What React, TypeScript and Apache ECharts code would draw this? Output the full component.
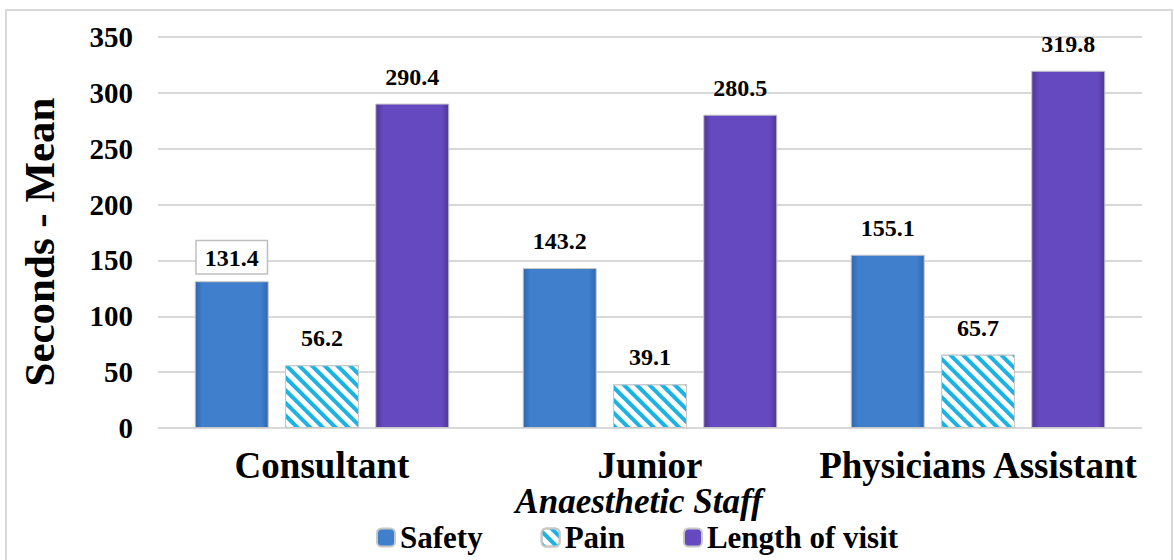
import React, { useEffect, useRef } from "react";
import * as echarts from "echarts";

const categories = ["Consultant", "Junior", "Physicians Assistant"];
const safety = [131.4, 143.2, 155.1];
const pain = [56.2, 39.1, 65.7];
const lengthOfVisit = [290.4, 280.5, 319.8];
const yTicks = { min: 0, max: 350, interval: 50 };
const yTitle = "Seconds - Mean";
const xTitle = "Anaesthetic Staff";

const FONT = "Liberation Serif";

export default function App() {
  const ref = useRef<HTMLDivElement>(null);
  useEffect(() => {
    if (!ref.current) return;
    const chart = echarts.init(ref.current, null, { renderer: "svg" });
    const label = {
      show: true,
      position: "top",
      distance: 15,
      fontFamily: FONT,
      fontWeight: "bold",
      fontSize: 24,
      color: "#000",
    };
    const hGrad = (edge: string, mid: string) =>
      new echarts.graphic.LinearGradient(0, 0, 1, 0, [
        { offset: 0, color: edge },
        { offset: 0.1, color: mid },
        { offset: 0.9, color: mid },
        { offset: 1, color: edge },
      ]);
    chart.setOption({
      animation: false,
      backgroundColor: "#fff",
      textStyle: { fontFamily: FONT },
      graphic: [
        {
          type: "rect",
          shape: { x: 6, y: 10, width: 1166, height: 560 },
          style: { fill: "none", stroke: "#d9d9d9", lineWidth: 2 },
          silent: true,
          z: -10,
        },
        {
          type: "text",
          x: 39,
          y: 242,
          rotation: Math.PI / 2,
          style: {
            text: yTitle,
            fontFamily: FONT,
            fontWeight: "bold",
            fontSize: 43,
            fill: "#000",
            textAlign: "center",
            textVerticalAlign: "middle",
          },
        },
      ],
      grid: { left: 158, right: 32, top: 37, bottom: 132, containLabel: false },
      legend: {
        top: 522,
        left: 376,
        padding: 0,
        itemWidth: 18,
        itemHeight: 18,
        itemGap: 58,
        textStyle: { fontFamily: FONT, fontWeight: "bold", fontSize: 31, color: "#000" },
        data: ["Safety", "Pain", "Length of visit"],
      },
      xAxis: {
        type: "category",
        data: categories,
        axisLine: { lineStyle: { color: "#d9d9d9", width: 1 } },
        axisTick: { show: false },
        axisLabel: {
          interval: 0,
          fontFamily: FONT,
          fontWeight: "bold",
          fontSize: 37,
          color: "#000",
          margin: 19,
        },
        name: xTitle,
        nameLocation: "middle",
        nameGap: 56,
        nameMoveOverlap: false,
        nameTextStyle: {
          fontFamily: FONT,
          fontWeight: "bold",
          fontStyle: "italic",
          fontSize: 35,
          color: "#000",
          padding: [0, 22, 0, 0],
        },
      },
      yAxis: {
        type: "value",
        min: yTicks.min,
        max: yTicks.max,
        interval: yTicks.interval,
        axisLine: { show: false },
        axisTick: { show: false },
        splitLine: { lineStyle: { color: "#d9d9d9", width: 2 } },
        axisLabel: {
          fontFamily: FONT,
          fontWeight: "bold",
          fontSize: 29,
          color: "#000",
          margin: 25,
        },
      },
      series: [
        {
          name: "Safety",
          type: "bar",
          barWidth: 74,
          barGap: "22%",
          data: safety.map((v, i) =>
            i === 0
              ? {
                  value: v,
                  label: {
                    borderColor: "#bfbfbf",
                    borderWidth: 1.5,
                    padding: [5, 8, 3, 8],
                    backgroundColor: "#fff",
                    distance: 8,
                  },
                }
              : v
          ),
          itemStyle: {
            color: hGrad("#2f68ad", "#3f7fcc"),
            borderColor: "#c8c8c8",
            borderWidth: 1,
          },
          label,
        },
        {
          name: "Pain",
          type: "bar",
          barWidth: 74,
          data: pain,
          itemStyle: {
            color: "#ffffff",
            borderColor: "#c8c8c8",
            borderWidth: 1,
            decal: {
              symbol: "rect",
              color: "#1bb2e6",
              backgroundColor: "#ffffff",
              dashArrayX: [1, 0],
              dashArrayY: [4, 5],
              rotation: Math.PI / 4,
              symbolSize: 1,
            },
          },
          label,
        },
        {
          name: "Length of visit",
          type: "bar",
          barWidth: 74,
          data: lengthOfVisit,
          itemStyle: {
            color: hGrad("#4f3596", "#6549c0"),
            borderColor: "#c8c8c8",
            borderWidth: 1,
          },
          label,
        },
      ],
    });
    return () => chart.dispose();
  }, []);
  return (
    <div
      ref={ref}
      style={{ position: "absolute", left: 0, top: 0, width: 1174, height: 560 }}
    />
  );
}
